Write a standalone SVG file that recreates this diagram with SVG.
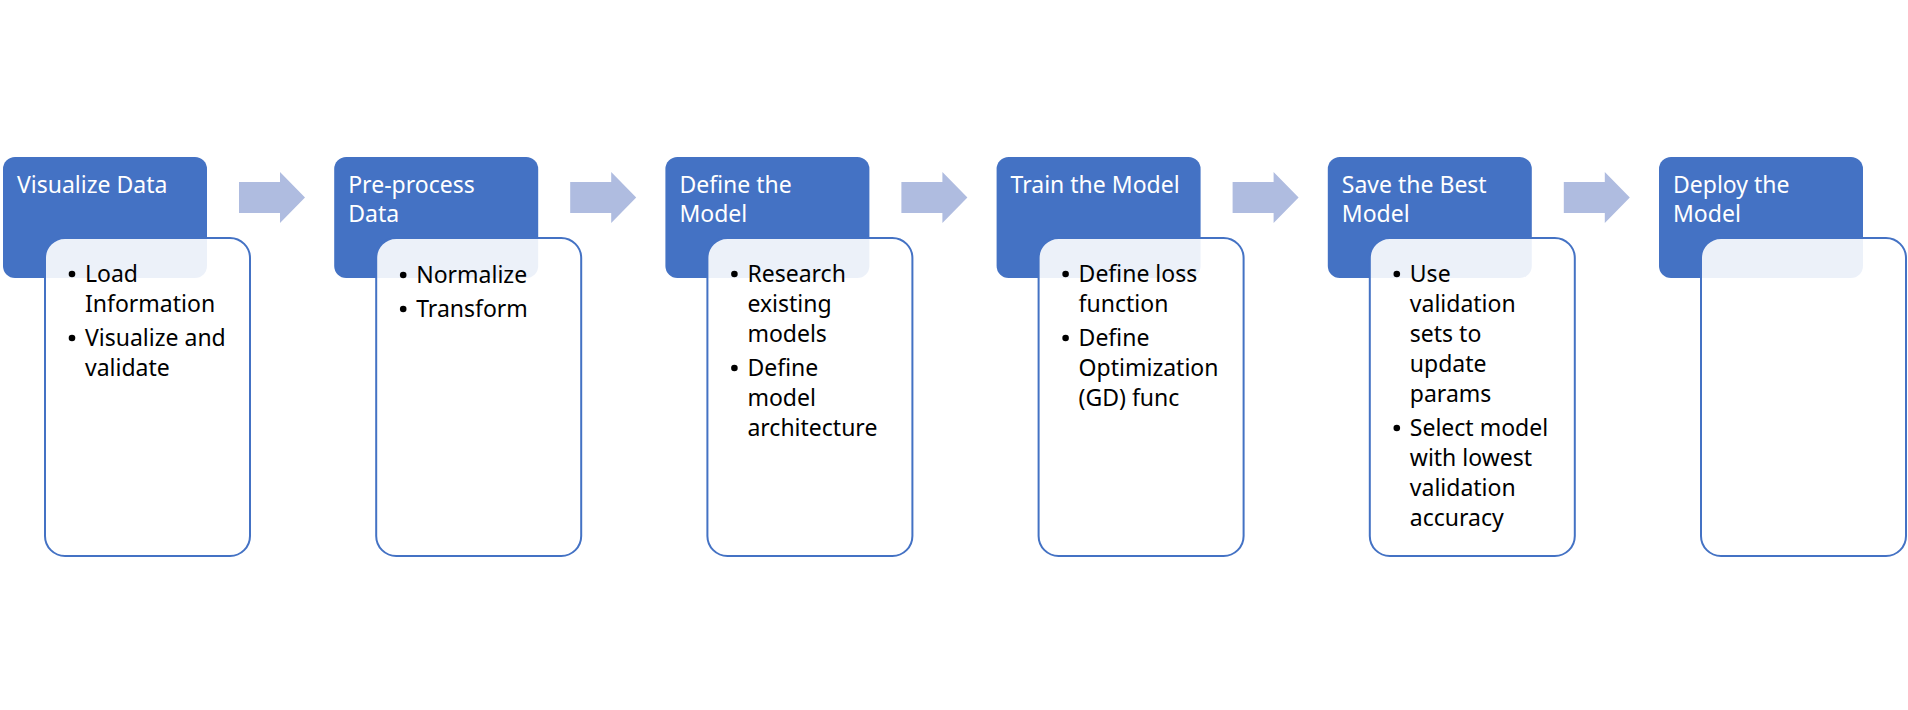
<svg xmlns="http://www.w3.org/2000/svg" width="1908" height="710" viewBox="0 0 1908 710">
<defs>
<style>
.hdr{fill:#4472C4}
.card{fill:#FFFFFF;fill-opacity:0.9;stroke:#4472C4;stroke-width:2}
.ht{font-family:"Noto Sans","Open Sans","DejaVu Sans",sans-serif;font-size:23px;fill:#FFFFFF}
.bt{font-family:"Noto Sans","Open Sans","DejaVu Sans",sans-serif;font-size:23px;fill:#000000}
.arrow{fill:#AFBCE0}
</style>
<path id="arr" d="M0,10 H41 V0 L66,25.5 L41,51 V41 H0 Z"/>
</defs>
<rect width="1908" height="710" fill="#FFFFFF"/>
<g id="connectors" class="arrow">
<use href="#arr" x="239" y="172"/>
<use href="#arr" x="570.2" y="172"/>
<use href="#arr" x="901.4" y="172"/>
<use href="#arr" x="1232.6" y="172"/>
<use href="#arr" x="1563.8" y="172"/>
</g>
<g id="node1" transform="translate(3,0)">
<rect class="hdr" x="0" y="157" width="204" height="121" rx="12"/>
<text class="ht" x="14" y="193">Visualize Data</text>
<rect class="card" x="42" y="238" width="205" height="318" rx="20"/>
<g class="bt">
<circle cx="69" cy="274" r="3.3"/>
<text x="82" y="282">Load</text>
<text x="82" y="312">Information</text>
<circle cx="69" cy="338" r="3.3"/>
<text x="82" y="346">Visualize and</text>
<text x="82" y="376">validate</text>
</g>
</g>
<g id="node2" transform="translate(334.2,0)">
<rect class="hdr" x="0" y="157" width="204" height="121" rx="12"/>
<text class="ht" x="14" y="193">Pre-process</text>
<text class="ht" x="14" y="222">Data</text>
<rect class="card" x="42" y="238" width="205" height="318" rx="20"/>
<g class="bt">
<circle cx="69" cy="275" r="3.3"/>
<text x="82" y="283">Normalize</text>
<circle cx="69" cy="309" r="3.3"/>
<text x="82" y="317">Transform</text>
</g>
</g>
<g id="node3" transform="translate(665.4,0)">
<rect class="hdr" x="0" y="157" width="204" height="121" rx="12"/>
<text class="ht" x="14" y="193">Define the</text>
<text class="ht" x="14" y="222">Model</text>
<rect class="card" x="42" y="238" width="205" height="318" rx="20"/>
<g class="bt">
<circle cx="69" cy="274" r="3.3"/>
<text x="82" y="282">Research</text>
<text x="82" y="312">existing</text>
<text x="82" y="342">models</text>
<circle cx="69" cy="368" r="3.3"/>
<text x="82" y="376">Define</text>
<text x="82" y="406">model</text>
<text x="82" y="436">architecture</text>
</g>
</g>
<g id="node4" transform="translate(996.6,0)">
<rect class="hdr" x="0" y="157" width="204" height="121" rx="12"/>
<text class="ht" x="14" y="193">Train the Model</text>
<rect class="card" x="42" y="238" width="205" height="318" rx="20"/>
<g class="bt">
<circle cx="69" cy="274" r="3.3"/>
<text x="82" y="282">Define loss</text>
<text x="82" y="312">function</text>
<circle cx="69" cy="338" r="3.3"/>
<text x="82" y="346">Define</text>
<text x="82" y="376">Optimization</text>
<text x="82" y="406">(GD) func</text>
</g>
</g>
<g id="node5" transform="translate(1327.8,0)">
<rect class="hdr" x="0" y="157" width="204" height="121" rx="12"/>
<text class="ht" x="14" y="193">Save the Best</text>
<text class="ht" x="14" y="222">Model</text>
<rect class="card" x="42" y="238" width="205" height="318" rx="20"/>
<g class="bt">
<circle cx="69" cy="274" r="3.3"/>
<text x="82" y="282">Use</text>
<text x="82" y="312">validation</text>
<text x="82" y="342">sets to</text>
<text x="82" y="372">update</text>
<text x="82" y="402">params</text>
<circle cx="69" cy="428" r="3.3"/>
<text x="82" y="436">Select model</text>
<text x="82" y="466">with lowest</text>
<text x="82" y="496">validation</text>
<text x="82" y="526">accuracy</text>
</g>
</g>
<g id="node6" transform="translate(1659,0)">
<rect class="hdr" x="0" y="157" width="204" height="121" rx="12"/>
<text class="ht" x="14" y="193">Deploy the</text>
<text class="ht" x="14" y="222">Model</text>
<rect class="card" x="42" y="238" width="205" height="318" rx="20"/>
</g>
</svg>
